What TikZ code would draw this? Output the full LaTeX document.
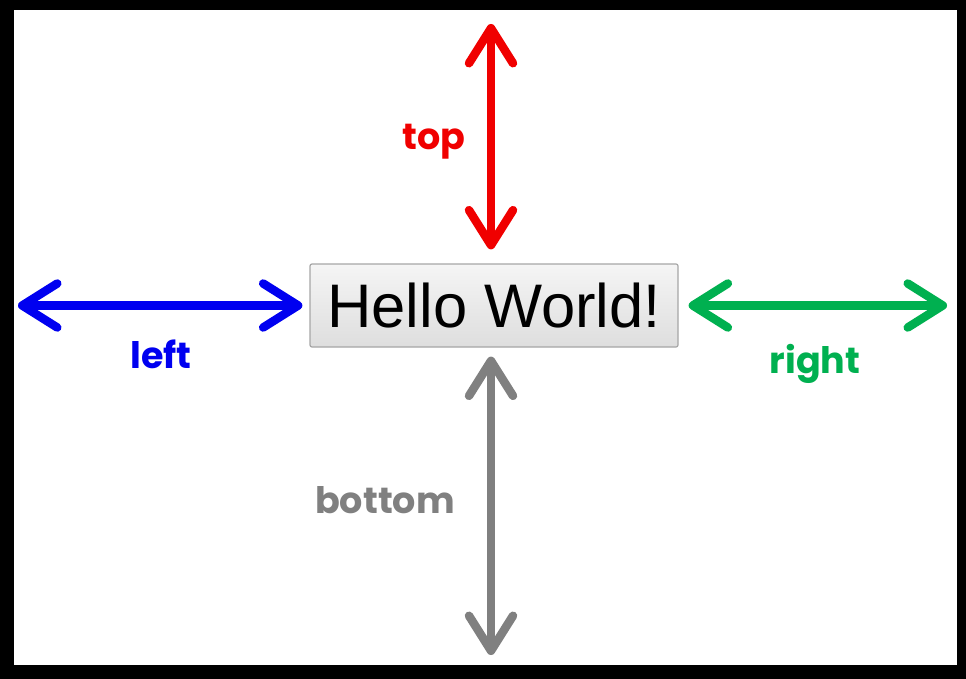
\documentclass[tikz,border=0pt]{standalone}
\usepackage{fontspec}
\setmainfont{Liberation Sans}
\newfontfamily\labelfont{Poppins}
\usetikzlibrary{arrows.meta}

\definecolor{topred}{RGB}{240,0,0}
\definecolor{leftblue}{RGB}{0,0,240}
\definecolor{rightgreen}{RGB}{0,176,80}
\definecolor{bottomgray}{RGB}{128,128,128}

\begin{document}
\begin{tikzpicture}[
    x=1pt, y=-1pt,
    button/.style={draw=black!35, line width=1.2pt, rounded corners=2pt,
      top color=black!4, bottom color=black!13,
      minimum width=368pt, minimum height=83pt, inner sep=0pt, font=\fontsize{61.5}{61.5}\selectfont},
    dimarrow/.style={line width=8.5pt, line cap=round,
      {Straight Barb[round, length=35pt, width=44pt]}-{Straight Barb[round, length=35pt, width=44pt]}},
    lbl/.style={font=\labelfont\bfseries\fontsize{36.5}{36.5}\selectfont}
  ]
    % frame
    \fill[black] (0,0) rectangle (966,679);
    \fill[white] (14,10) rectangle (957,665);

    \node[button] (hello) at (494,305.5) {Hello World!};

    \coordinate (topend) at (491,24);
    \coordinate (leftend) at (18,305.5);
    \coordinate (rightend) at (947,305.5);
    \coordinate (bottomend) at (491,655);

    \draw[dimarrow, topred] (topend) -- ([xshift=-3pt, yshift=14pt]hello.north);
    \draw[dimarrow, leftblue] (leftend) -- ([xshift=-7pt]hello.west);
    \draw[dimarrow, rightgreen] ([xshift=10pt]hello.east) -- (rightend);
    \draw[dimarrow, bottomgray] ([xshift=-3pt, yshift=-9pt]hello.south) -- (bottomend);

    \node[lbl, text=topred] (toplbl) at (434,142) {top};
    \node[lbl, text=leftblue] (leftlbl) at (161,354) {left};
    \node[lbl, text=rightgreen] (rightlbl) at (815,364) {right};
    \node[lbl, text=bottomgray] (bottomlbl) at (385,500) {bottom};
  \end{tikzpicture}
\end{document}
